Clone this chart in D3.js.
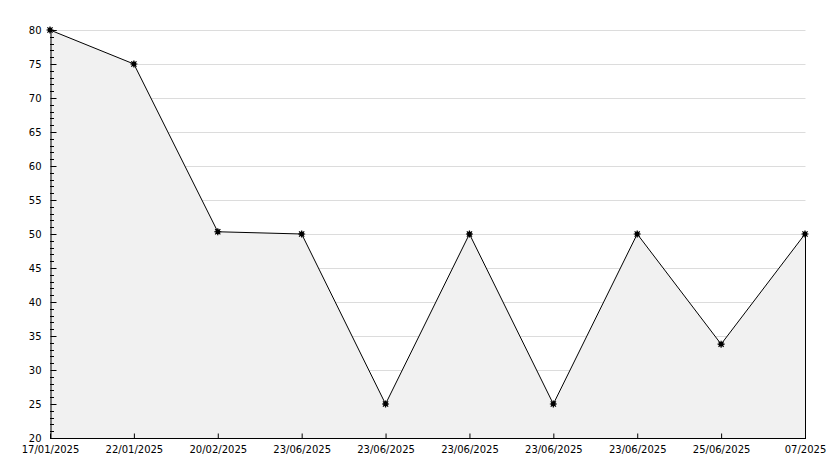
<!DOCTYPE html>
<html><head><meta charset="utf-8">
<script src="https://cdn.jsdelivr.net/npm/d3@7"></script>
<style>html,body{margin:0;padding:0;background:#fff;}svg{display:block;}text{font-family:"DejaVu Sans",Verdana,sans-serif;font-size:10px;fill:#000;}</style>
</head><body><svg id="c" width="834" height="468"></svg>
<script>
const categories = ["17/01/2025","22/01/2025","20/02/2025","23/06/2025","23/06/2025","23/06/2025","23/06/2025","23/06/2025","25/06/2025","07/2025"];
const values = [80, 75, 50.33, 50, 25, 50, 25, 50, 33.8, 50];
const yTicks = [20,25,30,35,40,45,50,55,60,65,70,75,80];

const svg = d3.select("#c");
const mL = 50, mR = 805, mT = 30, mB = 438;
const x = d3.scalePoint().domain(d3.range(categories.length)).range([mL, mR]);
const y = d3.scaleLinear().domain([20, 80]).range([mB, mT]);

// grid
svg.append("g").selectAll("line").data(yTicks.filter(d=>d>20)).join("line")
  .attr("x1", mL).attr("x2", mR+0.5)
  .attr("y1", d=>Math.round(y(d))+0.5).attr("y2", d=>Math.round(y(d))+0.5)
  .attr("stroke", "#dcdcdc").attr("stroke-width", 1);

// area
const area = d3.area().x((d,i)=>x(i)).y0(y(20)).y1(d=>y(d));
svg.append("path").datum(values).attr("d", area).attr("fill", "#f1f1f1").attr("stroke","none");
svg.append("line").attr("x1", mR+0.5).attr("x2", mR+0.5).attr("y1", y(values[values.length-1])).attr("y2", mB)
  .attr("stroke","#000");
// line
svg.append("path").datum(values).attr("d", d3.line().x((d,i)=>x(i)).y(d=>y(d)))
  .attr("fill","none").attr("stroke","#000").attr("stroke-width",1);

// axes
const yAxis = d3.axisLeft(y).tickValues(yTicks).tickSize(-6).tickPadding(9).tickFormat(d3.format("d"));
const gy = svg.append("g").attr("transform", `translate(${mL+0.5},0)`).call(yAxis);
gy.select(".domain").attr("stroke","#000");
gy.selectAll(".tick line").attr("stroke","#000");
gy.selectAll("text").attr("font-size", 10).attr("font-family", "DejaVu Sans");
// minor ticks
const minor = d3.range(21, 80).filter(d=>d%5!==0);
svg.append("g").selectAll("line").data(minor).join("line")
  .attr("x1", mL).attr("x2", mL+4)
  .attr("y1", d=>Math.round(y(d))+0.5).attr("y2", d=>Math.round(y(d))+0.5)
  .attr("stroke","#000");

const xAxis = d3.axisBottom(x).tickSize(-5).tickPadding(7).tickFormat(i=>categories[i]);
const gx = svg.append("g").attr("transform", `translate(0,${mB+0.5})`).call(xAxis);
gx.select(".domain").attr("stroke","#000").attr("d", `M${mL},0H${mR+1}`);
gx.selectAll(".tick line").attr("stroke","#000");
gx.selectAll("text").attr("font-size", 10).attr("font-family", "DejaVu Sans");

// markers
const mk = svg.append("g").selectAll("g").data(values).join("g")
  .attr("transform", (d,i)=>`translate(${x(i)},${y(d)})`);
mk.append("circle").attr("r", 2.4).attr("fill","#000");
mk.append("path").attr("d","M-3.5,0H3.5M0,-3.5V3.5M-2.6,-2.6L2.6,2.6M-2.6,2.6L2.6,-2.6").attr("stroke","#000").attr("stroke-width",1.2);
</script></body></html>
